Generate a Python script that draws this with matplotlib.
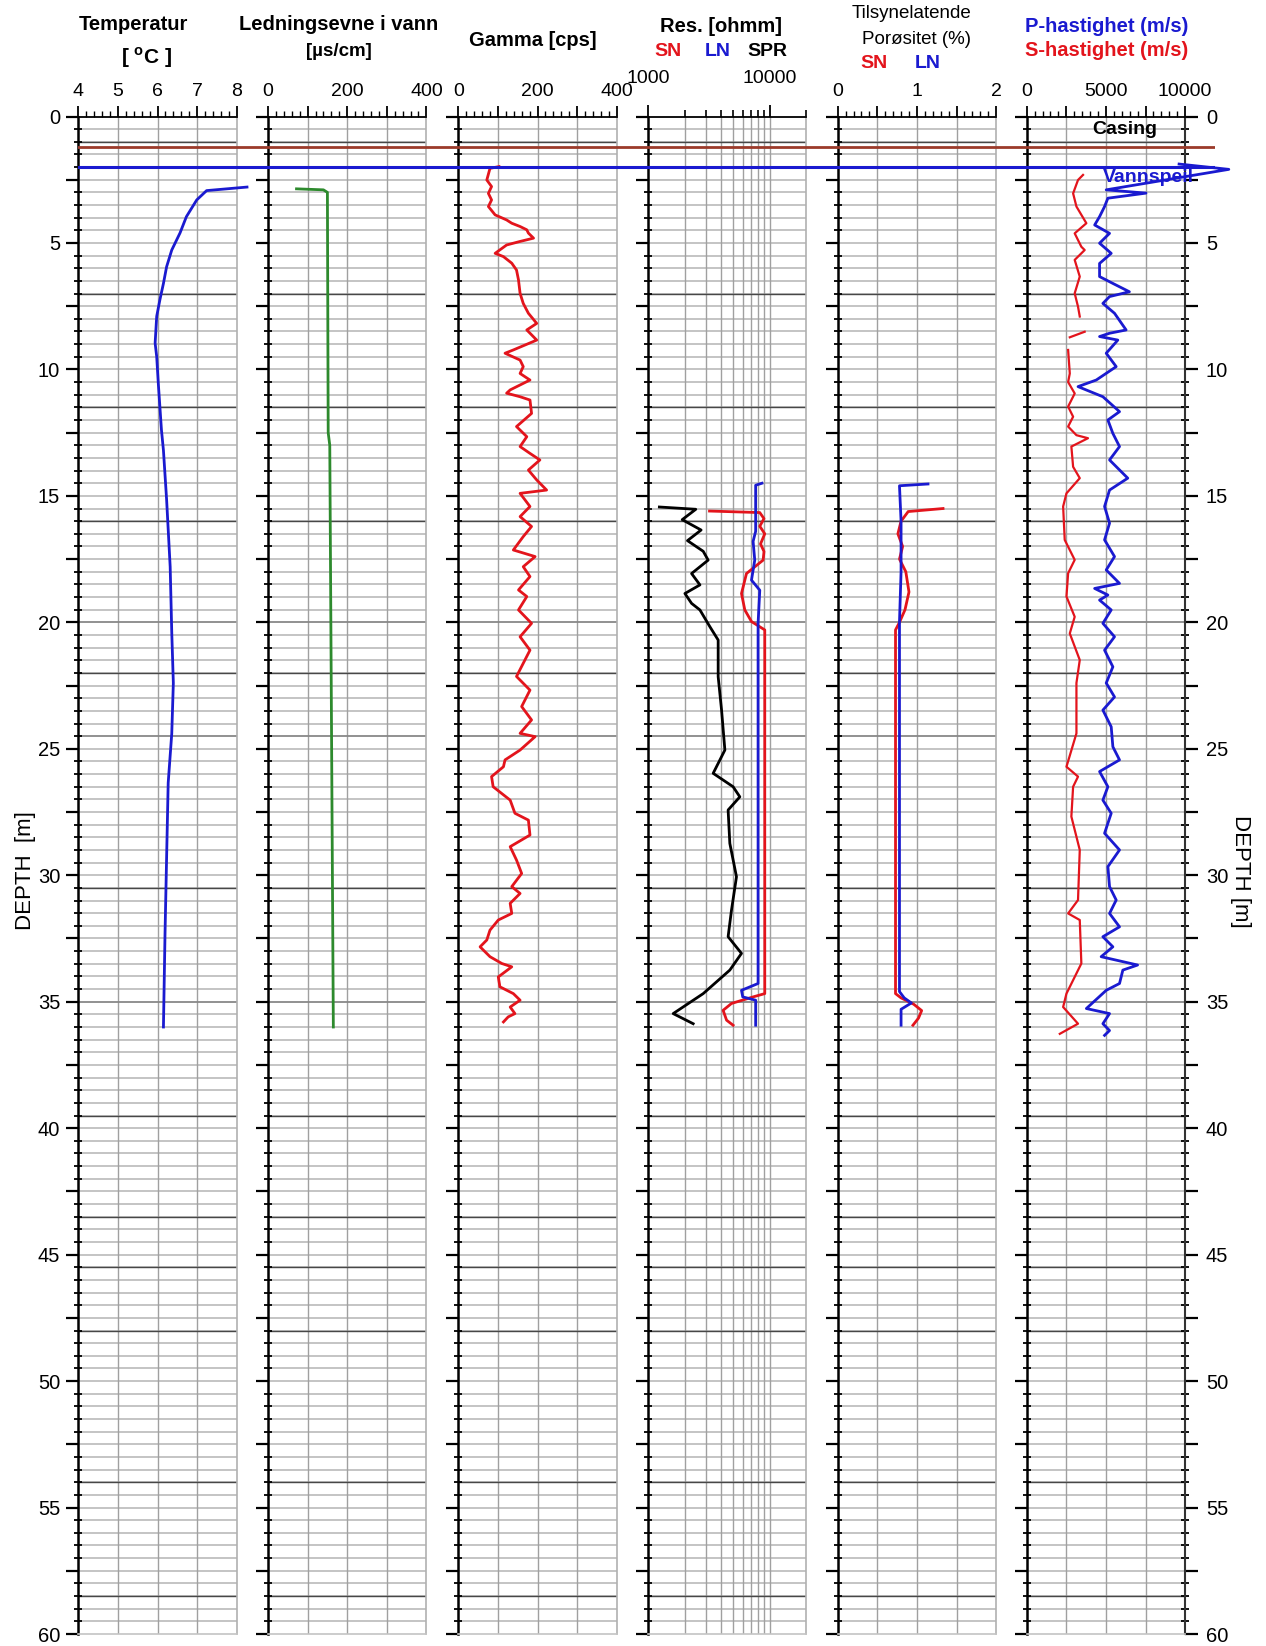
import matplotlib
matplotlib.use('Agg')
import matplotlib.pyplot as plt
import numpy as np
from matplotlib.ticker import MultipleLocator, FixedLocator, FixedFormatter, NullFormatter

plt.rcParams['font.family'] = ['Liberation Sans', 'DejaVu Sans']
plt.rcParams['mathtext.fontset'] = 'custom'
plt.rcParams['mathtext.rm'] = 'Liberation Sans'
plt.rcParams['mathtext.bf'] = 'Liberation Sans:bold'

# ---------------- data ----------------
temp_depth = [2.79, 2.93, 3.3, 3.96, 4.6, 5.28, 5.94, 6.6, 7.25, 7.9, 8.96, 9.5, 10.55, 12.4, 13.2,
              15.15, 17.8, 20.4, 22.4, 24.4, 26.35, 29.3, 32.3, 36.0]
temp = [8.26, 7.24, 6.99, 6.73, 6.57, 6.36, 6.23, 6.15, 6.06, 5.98, 5.94, 5.98, 6.02, 6.1, 6.15,
        6.23, 6.32, 6.36, 6.4, 6.36, 6.27, 6.23, 6.19, 6.15]

cond_depth = [2.86, 2.9, 3.0, 12.5, 13.0, 36.0]
cond = [72, 140, 150, 152, 156, 165]

gamma_depth = [1.98, 2.05, 2.51, 2.77, 3.04, 3.3, 3.56, 3.89, 4.09, 4.22, 4.35, 4.48, 4.61, 4.81, 4.94,
               5.08, 5.41, 5.54, 5.8, 6.07, 6.46, 6.99, 7.39, 7.78, 8.18, 8.44, 8.84, 9.23, 9.36, 9.63,
               9.89, 10.16, 10.42, 10.81, 10.94, 11.08, 11.21, 11.74, 12.26, 12.66, 13.05, 13.32, 13.58,
               13.98, 14.37, 14.77, 14.9, 15.42, 15.82, 16.21, 16.61, 17.14, 17.4, 17.8, 18.19, 18.72,
               18.98, 19.51, 20.04, 20.57, 21.1, 22.14, 22.68, 23.33, 23.86, 24.39, 24.52, 25.05, 25.44,
               25.71, 26.1, 26.5, 27.03, 27.55, 27.82, 28.41, 28.87, 29.4, 29.93, 30.45, 30.72, 31.11,
               31.51, 31.77, 32.17, 32.56, 32.83, 33.22, 33.49, 33.62, 34.02, 34.41, 34.68, 34.94, 35.21,
               35.47, 35.6, 35.8]
gamma = [103, 80, 72, 84, 76, 84, 76, 93, 122, 135, 156, 173, 177, 190, 156,
         122, 93, 114, 135, 147, 152, 156, 164, 177, 198, 173, 198, 139, 118, 156,
         164, 156, 181, 131, 122, 156, 181, 185, 147, 173, 156, 181, 206,
         177, 198, 223, 156, 181, 156, 185, 164, 139, 194, 164, 181, 152,
         173, 152, 185, 156, 181, 147, 181, 160, 185, 156, 194, 156, 118,
         114, 84, 88, 131, 143, 177, 181, 131, 147, 160, 135, 156, 131,
         135, 101, 80, 72, 55, 80, 110, 135, 101, 105, 139, 156, 131,
         143, 126, 114]

spr_depth = [15.44, 15.53, 15.94, 16.35, 16.77, 17.19, 17.54, 18.07, 18.52, 18.86, 19.25, 19.51, 20.17,
             20.7, 22.15, 23.47, 25.05, 25.97, 26.5, 26.9, 27.42, 28.74, 30.06, 31.38, 32.43, 33.09,
             33.75, 34.68, 35.47, 35.87]
spr = [1240, 2470, 1910, 2730, 2110, 2840, 3120, 2280, 2670, 2010, 2280, 2670, 3220,
       3770, 3770, 4020, 4280, 3430, 5000, 5680, 4550, 4700, 5330, 4850, 4550, 5860,
       4700, 2840, 1610, 2350]

ln_depth = [14.5, 14.58, 15.5, 16.4, 16.8, 17.54, 18.33, 18.73, 20.04, 34.28, 34.55, 34.81, 34.94, 35.93]
ln_res = [8630, 7660, 7660, 7660, 7300, 7530, 7080, 8280, 8020, 8020, 5860, 6000, 7660, 7660]

sn_depth = [15.6, 15.66, 15.9, 16.2, 16.5, 16.9, 17.2, 17.54, 18.07, 18.86, 19.51, 19.97, 20.3,
            34.68, 34.81, 35.07, 35.34, 35.73, 35.93]
sn_res = [3200, 8280, 8970, 8280, 9100, 8400, 8970, 8820, 6440, 5860, 6240, 7080, 9100,
          9100, 7300, 4850, 4140, 4420, 5000]

por_ln_depth = [14.53, 14.6, 16.0, 18.0, 20.0, 34.6, 34.85, 35.05, 35.3, 35.93]
por_ln = [1.14, 0.78, 0.8, 0.8, 0.78, 0.78, 0.84, 0.93, 0.8, 0.8]

por_sn_depth = [15.5, 15.62, 16.0, 16.5, 17.0, 17.5, 18.0, 18.8, 19.5, 20.0, 20.3, 34.68, 34.85,
                35.1, 35.35, 35.65, 35.93]
por_sn = [1.33, 0.89, 0.8, 0.76, 0.82, 0.78, 0.86, 0.9, 0.85, 0.78, 0.73, 0.73, 0.8,
          0.96, 1.06, 1.02, 0.95]

p_depth = [1.88, 2.09, 2.9, 3.03, 3.23, 3.56, 3.96, 4.29, 4.62, 5.01, 5.41, 5.81, 6.33, 6.6, 6.93,
           7.12, 7.39, 7.78, 8.44, 8.57, 8.7, 8.84, 9.36, 9.89, 10.42, 10.68, 11.08, 11.67, 12.0, 12.53,
           13.05, 13.58, 14.3, 14.77, 15.42, 16.08, 16.74, 17.4, 17.93, 18.46, 18.66, 18.92, 19.12,
           19.51, 20.04, 20.57, 21.1, 21.76, 22.4, 22.95, 23.47, 24.13, 24.92, 25.44, 25.9, 26.5,
           27.03, 27.55, 28.34, 29.0, 29.66, 30.45, 30.98, 31.51, 32.04, 32.43, 32.83, 33.22, 33.55,
           33.75, 34.28, 34.55, 35.27, 35.47, 35.87, 36.14, 36.33]
p_vel = [9620, 12760, 5020, 7530, 5125, 4916, 4600, 4290, 5230, 4600, 5335, 4600, 4600, 5440, 6485,
         5230, 4810, 5544, 6276, 5230, 4600, 5753, 5020, 5650, 4390, 3240, 4810, 5860, 5125, 5440,
         5860, 5230, 6380, 5230, 4916, 5230, 4916, 5544, 5020, 5860, 4290, 5125, 4600,
         5335, 4810, 5544, 4916, 5440, 5020, 5544, 4810, 5335, 5440, 5860, 4600, 5125,
         4810, 5335, 4916, 5860, 5125, 5230, 5650, 5230, 5860, 4810, 5440, 4700, 7000,
         6070, 5860, 5020, 3766, 5230, 4810, 5230, 4916]

nan = float('nan')
s_depth = [2.31, 2.51, 3.04, 3.56, 4.22, 4.62, 5.15, 5.28, 5.67, 6.33, 6.99, 7.52, 7.91, nan, 8.51,
           8.73, nan, 9.23, 10.16, 10.5, 10.95, 11.47, 11.87, 12.26, 12.6, 12.72, 13.05, 13.85, 14.3,
           14.9, 15.42, 16.74, 17.53, 18.06, 18.98, 19.78, 20.44, 21.49, 22.4, 24.39, 25.71, 26.1,
           26.5, 27.68, 29.0, 30.98, 31.51, 31.77, 33.49, 34.68, 35.21, 35.87, 36.27]
s_vel = [3556, 3240, 2930, 3140, 3766, 3030, 3450, 3660, 3030, 3350, 3030, 3240, 3350, nan, 3660,
         2720, nan, 2615, 2720, 2615, 3030, 2615, 2930, 2615, 3140, 3870, 2820, 2930, 3350,
         2510, 2300, 2400, 3030, 2615, 2510, 3030, 2720, 3350, 3140, 3140, 2510, 3240,
         2930, 2820, 3350, 3240, 2615, 3350, 3450, 2510, 2300, 3240, 2090]

casing_depth = 1.22
water_depth = 2.0
grid_depths = np.arange(0.5, 60.0, 0.5)
dark_grid_depths = [1.0, 7.0, 11.5, 16.0, 22.0, 30.5, 39.5, 43.5, 45.5, 48.0, 54.0, 58.5]
mid_grid_depths = [20.0, 24.5, 35.0]

# track x-axis definitions
tracks = [
    dict(lim=(4, 8), major=[4, 5, 6, 7, 8], labels=['4', '5', '6', '7', '8'], minor=0.2, vgrid=[5, 6, 7]),
    dict(lim=(0, 400), major=[0, 100, 200, 300, 400], labels=['0', '', '200', '', '400'], minor=20, vgrid=[100, 200, 300]),
    dict(lim=(0, 400), major=[0, 100, 200, 300, 400], labels=['0', '', '200', '', '400'], minor=20, vgrid=[100, 200, 300]),
    dict(lim=(1000, 20000), major=[1000, 10000], labels=['1000', '10000'], minor=None,
         vgrid=[2000, 3000, 4000, 5000, 6000, 7000, 8000, 9000, 10000], log=True),
    dict(lim=(0, 2), major=[0, 0.5, 1, 1.5, 2], labels=['0', '', '1', '', '2'], minor=0.1, vgrid=[0.5, 1, 1.5]),
    dict(lim=(0, 10000), major=[0, 2500, 5000, 7500, 10000], labels=['0', '', '5000', '', '10000'], minor=500, vgrid=[2500, 5000, 7500]),
]

# ---------------- layout ----------------
W, H = 1266, 1646
fig = plt.figure(figsize=(W / 100, H / 100), dpi=100)
TOP, BOT = 116.5, 1634.0
track_left = [78.3, 268.0, 458.3, 648.0, 837.7, 1026.7]
track_w = 158.4

BLUE = '#1a1ad0'
RED = '#e3141c'
GREEN = '#2d8a2d'
BROWN = '#9b3a2a'

axes = []
for i, (lx, tr) in enumerate(zip(track_left, tracks)):
    ax = fig.add_axes([lx / W, 1 - BOT / H, track_w / W, (BOT - TOP) / H])
    ax.set_facecolor('none')
    if tr.get('log'):
        ax.set_xscale('log')
    ax.set_xlim(*tr['lim'])
    ax.set_ylim(60, 0)
    for d in grid_depths:
        ax.axhline(d, color='#c4c4c4', lw=1.4, zorder=0.5)
    for d in mid_grid_depths:
        ax.axhline(d, color='#848484', lw=1.1, zorder=0.6)
    for d in dark_grid_depths:
        ax.axhline(d, color='#474747', lw=1.0, zorder=0.6)
    for v in tr['vgrid']:
        ax.axvline(v, color='#a0a0a0', lw=1.0, zorder=0.5)
    # x ticks on top
    ax.xaxis.set_ticks_position('top')
    ax.xaxis.set_label_position('top')
    ax.xaxis.set_major_locator(FixedLocator(tr['major']))
    ax.xaxis.set_major_formatter(FixedFormatter(tr['labels']))
    if tr.get('log'):
        ax.xaxis.set_minor_locator(FixedLocator([2000, 3000, 4000, 5000, 6000, 7000, 8000, 9000, 20000]))
        ax.tick_params(axis='x', which='minor', length=5, width=1.2, direction='out')
        ax.tick_params(axis='x', which='major', length=9, width=1.3, direction='out', pad=12, labelsize=14)
    else:
        ax.xaxis.set_minor_locator(MultipleLocator(tr['minor']))
        ax.tick_params(axis='x', which='minor', length=4, width=1.0, direction='out')
        ax.tick_params(axis='x', which='major', length=8, width=1.3, direction='out', pad=4, labelsize=14)
    ax.xaxis.set_minor_formatter(NullFormatter())
    # y ticks
    ax.yaxis.set_major_locator(MultipleLocator(2.5))
    ax.yaxis.set_minor_locator(MultipleLocator(0.5))
    ax.yaxis.set_major_formatter(FixedFormatter([]))
    ax.tick_params(axis='y', which='major', length=9, width=1.6, direction='out', labelsize=14.5, pad=4)
    ax.tick_params(axis='y', which='minor', length=6, width=1.3, direction='inout')
    ax.tick_params(axis='y', labelleft=False)
    ax.spines['top'].set_color('black')
    ax.spines['top'].set_linewidth(1.3)
    ax.spines['left'].set_color('black')
    ax.spines['left'].set_linewidth(1.8)
    ax.spines['right'].set_color('#b0b0b0')
    ax.spines['right'].set_linewidth(1.2)
    ax.spines['bottom'].set_color('#c4c4c4')
    ax.spines['bottom'].set_linewidth(1.2)
    axes.append(ax)

ax1, ax2, ax3, ax4, ax5, ax6 = axes

# depth labels
depth_ticks = np.arange(0, 61, 2.5)
depth_labels = ['%d' % v if v % 5 == 0 else '' for v in depth_ticks]
ax1.yaxis.set_major_locator(FixedLocator(depth_ticks))
ax1.yaxis.set_major_formatter(FixedFormatter(depth_labels))
ax1.tick_params(axis='y', labelleft=True)
ax6.yaxis.set_ticks_position('both')
ax6.yaxis.set_major_locator(FixedLocator(depth_ticks))
ax6.yaxis.set_major_formatter(FixedFormatter(depth_labels))
ax6.tick_params(axis='y', labelright=True, labelleft=False, pad=6)
ax6.spines['right'].set_color('#333333')
ax6.spines['right'].set_linewidth(1.5)

# curves
LW = 2.0
ax1.plot(temp, temp_depth, color=BLUE, lw=LW, clip_on=False, zorder=3)
ax2.plot(cond, cond_depth, color=GREEN, lw=LW, zorder=3)
ax3.plot(gamma, gamma_depth, color=RED, lw=LW, zorder=3)
ax4.plot(spr, spr_depth, color='black', lw=LW, zorder=3)
ax4.plot(sn_res, sn_depth, color=RED, lw=LW, zorder=3)
ax4.plot(ln_res, ln_depth, color=BLUE, lw=LW, zorder=3)
ax5.plot(por_sn, por_sn_depth, color=RED, lw=LW, zorder=3)
ax5.plot(por_ln, por_ln_depth, color=BLUE, lw=LW, zorder=3)
ax6.plot(s_vel, s_depth, color=RED, lw=1.6, zorder=3)
ax6.plot(p_vel, p_depth, color=BLUE, lw=LW, clip_on=False, zorder=3)

# casing and water level across all tracks
ov_right = 1215.0
ov = fig.add_axes([track_left[0] / W, 1 - BOT / H, (ov_right - track_left[0]) / W, (BOT - TOP) / H])
ov.set_xlim(0, 1)
ov.set_ylim(60, 0)
ov.axis('off')
ov.axhline(casing_depth, color=BROWN, lw=2.0)
ov.axhline(water_depth, color=BLUE, lw=2.2)

# ---------------- text ----------------
def T(x, y, s, **kw):
    fig.text(x / W, 1 - y / H, s, ha=kw.pop('ha', 'center'), va=kw.pop('va', 'center'), **kw)

T(133, 24, 'Temperatur', fontsize=14.5, fontweight='bold')
T(147, 58, r'[ $^{\mathbf{o}}\mathbf{C}$ ]', fontsize=15, fontweight='bold')
T(339, 24, 'Ledningsevne i vann', fontsize=14.5, fontweight='bold')
T(339, 51, '[\u00b5s/cm]', fontsize=13.5, fontweight='bold')
T(533, 41, 'Gamma [cps]', fontsize=14.5, fontweight='bold')
T(721, 27, 'Res. [ohmm]', fontsize=14.5, fontweight='bold')
T(668, 51, 'SN', fontsize=14, fontweight='bold', color=RED)
T(718, 51, 'LN', fontsize=14, fontweight='bold', color=BLUE)
T(767, 51, 'SPR', fontsize=14, fontweight='bold')
T(911, 14, 'Tilsynelatende', fontsize=13.5)
T(916, 39, 'Por\u00f8sitet (%)', fontsize=13.5)
T(874, 63, 'SN', fontsize=14, fontweight='bold', color=RED)
T(928, 63, 'LN', fontsize=14, fontweight='bold', color=BLUE)
T(1107, 27, 'P-hastighet (m/s)', fontsize=14.5, fontweight='bold', color=BLUE)
T(1107, 50, 'S-hastighet (m/s)', fontsize=14.5, fontweight='bold', color=RED)
T(1125, 130, 'Casing', fontsize=14, fontweight='bold')
T(1148, 177, 'Vannspeil', fontsize=14, fontweight='bold', color=BLUE)
T(25, 871, 'DEPTH  [m]', fontsize=16, rotation=90)
T(1241, 871, 'DEPTH [m]', fontsize=16, rotation=270)

fig.savefig('out.png', dpi=100)
